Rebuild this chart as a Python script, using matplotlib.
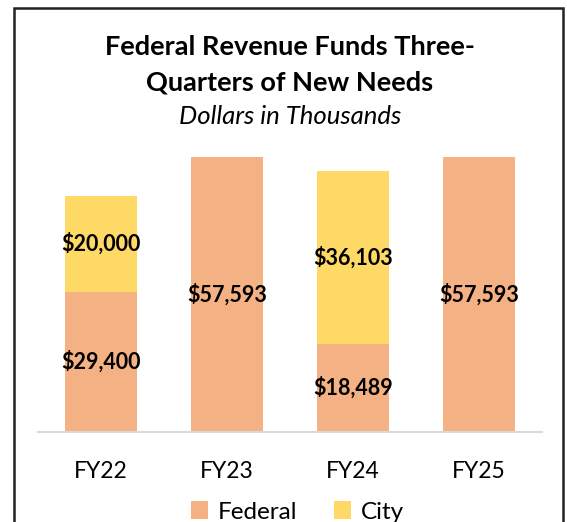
import matplotlib.pyplot as plt
from matplotlib.patches import Rectangle

plt.rcParams["font.family"] = ["Lato", "DejaVu Sans"]

years = ["FY22", "FY23", "FY24", "FY25"]
federal = [29400, 57593, 18489, 57593]
city = [20000, 0, 36103, 0]

federal_color = "#F4B183"
city_color = "#FFD966"

W, H = 567, 522
fig = plt.figure(figsize=(W / 100, H / 100), dpi=100)

# axes placed in pixel terms
left, right, top, base = 38, 542, 145.5, 432
ax = fig.add_axes([left / W, (H - base) / H, (right - left) / W, (base - top) / H])

x = range(len(years))
ax.bar(x, federal, width=0.571, color=federal_color, label="Federal")
ax.bar(x, city, width=0.571, bottom=federal, color=city_color, label="City")

for i in x:
    ax.text(i, federal[i] / 2, f"${federal[i]:,}", ha="center", va="center",
            fontsize=15.5, fontweight="bold", color="black")
    if city[i]:
        ax.text(i, federal[i] + city[i] / 2, f"${city[i]:,}", ha="center",
                va="center", fontsize=15.5, fontweight="bold", color="black")

ax.set_xlim(-0.5, 3.5)
ax.set_ylim(0, 60000)
ax.set_xticks(list(x))
ax.set_xticklabels(years, fontsize=16.5)
ax.tick_params(axis="x", length=0, pad=21)
ax.set_yticks([])
for s in ["top", "left", "right"]:
    ax.spines[s].set_visible(False)
ax.spines["bottom"].set_color("#d9d9d9")
ax.spines["bottom"].set_linewidth(1.5)

cx = 290 / W
fig.text(cx, 1 - 47 / H, "Federal Revenue Funds Three-", ha="center", va="center",
         fontsize=19.5, fontweight="bold")
fig.text(cx, 1 - 83 / H, "Quarters of New Needs", ha="center", va="center",
         fontsize=19.5, fontweight="bold")
fig.text(cx, 1 - 117 / H, "Dollars in Thousands", ha="center", va="center",
         fontsize=18.5, style="italic")

fig.legend(loc="center", bbox_to_anchor=(0.525, 1 - 512 / H), ncol=2, frameon=False,
           fontsize=17.5, handlelength=0.7, handleheight=0.7, handletextpad=0.4,
           columnspacing=1.5)

fig.patches.append(Rectangle((14 / W, -0.05), (563 - 14) / W, 1.05 - 8 / H,
                             transform=fig.transFigure, fill=False,
                             edgecolor="#222222", linewidth=1.8))

fig.savefig("out.png", dpi=100)
